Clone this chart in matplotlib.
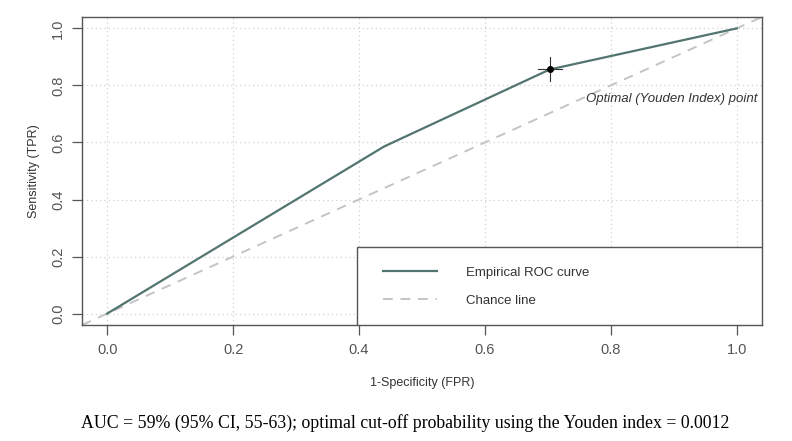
import matplotlib.pyplot as plt
from matplotlib.patches import Rectangle

# ROC curve values
fpr = [0.0, 0.44, 0.703, 1.0]
tpr = [0.0, 0.586, 0.856, 1.0]

# optimal (Youden index) point and its confidence crosshair
opt_x, opt_y = 0.703, 0.856
opt_x_ci = [0.684, 0.723]
opt_y_ci = [0.814, 0.898]

ticks = [0.0, 0.2, 0.4, 0.6, 0.8, 1.0]
tick_labels = ['0.0', '0.2', '0.4', '0.6', '0.8', '1.0']

caption = ('AUC = 59% (95% CI, 55-63); optimal cut-off probability '
           'using the Youden index = 0.0012')

GRAY = '#555555'
ROC_COL = '#52756f'


def main():
    plt.rcParams['font.family'] = ['Liberation Sans', 'DejaVu Sans']
    fig = plt.figure(figsize=(7.92, 4.41), dpi=100)
    ax = fig.add_axes([0.1035, 0.263, 0.8585, 0.6985])

    ax.set_xlim(-0.04, 1.04)
    ax.set_ylim(-0.04, 1.04)

    # dotted grid at the ticks
    for t in ticks:
        ax.axvline(t, color='#d0d0d0', lw=0.9, ls=(0, (1, 2.5)), zorder=0)
        ax.axhline(t, color='#d0d0d0', lw=0.9, ls=(0, (1, 2.5)), zorder=0)

    ax.axline((0, 0), (1, 1), color='#c4c4c4', lw=1.4, ls=(0, (5, 4)),
              label='Chance line', zorder=1)
    ax.plot(fpr, tpr, color=ROC_COL, lw=1.6, label='Empirical ROC curve',
            zorder=2)

    ax.plot(opt_x_ci, [opt_y, opt_y], color='#333333', lw=0.8, zorder=3)
    ax.plot([opt_x, opt_x], opt_y_ci, color='#333333', lw=0.8, zorder=3)
    ax.plot([opt_x], [opt_y], 'o', color='black', ms=4, zorder=4)
    ax.text(1.033, 0.754, 'Optimal (Youden Index) point', ha='right',
            va='center', fontsize=9.5, style='italic', color='#333333')

    ax.set_xticks(ticks)
    ax.set_xticklabels(tick_labels)
    ax.set_yticks(ticks)
    ax.set_yticklabels(tick_labels, rotation=90, va='center')
    ax.tick_params(direction='out', length=7, width=0.9, colors=GRAY,
                   labelsize=10.5, pad=6)
    ax.tick_params(axis='y', pad=5)
    for s in ax.spines.values():
        s.set_color(GRAY)
        s.set_linewidth(1.0)

    ax.set_xlabel('1-Specificity (FPR)', fontsize=9, color='#333333',
                  labelpad=14)
    ax.set_ylabel('Sensitivity (TPR)', fontsize=9, color='#333333',
                  labelpad=8)

    # legend box in the lower right corner
    ax.add_patch(Rectangle((0.404, 0.0), 0.596, 0.253, transform=ax.transAxes,
                           fill=True, facecolor='white', edgecolor=GRAY,
                           lw=1.0, zorder=5))
    handles, labels = ax.get_legend_handles_labels()
    order = [labels.index('Empirical ROC curve'), labels.index('Chance line')]
    leg = ax.legend([handles[i] for i in order], [labels[i] for i in order],
                    loc='center left', bbox_to_anchor=(0.442, 0.125),
                    frameon=False, fontsize=9.5, handlelength=4.1,
                    handletextpad=2.2, labelspacing=1.2, borderpad=0,
                    borderaxespad=0)
    leg.set_zorder(6)
    for t in leg.get_texts():
        t.set_color('#333333')

    fig.text(0.511, 0.04, caption, ha='center', va='center', fontsize=12.8,
             family=['Liberation Serif', 'DejaVu Serif'])

    plt.savefig('out.png', dpi=100)


if __name__ == '__main__':
    main()
